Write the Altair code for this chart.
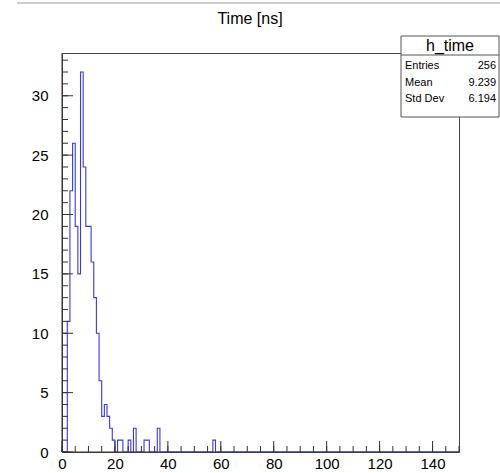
import altair as alt
import pandas as pd

# ---- data (1 ns bins, 0..150 ns) ----
bin_low_edges = [2, 3, 4, 5, 6, 7, 8, 9, 10, 11, 12, 13, 14, 15, 16, 17, 18, 19,
                 21, 22, 25, 27, 31, 32, 36, 57]
bin_counts = [11, 22, 26, 19, 15, 32, 24, 19, 19, 16, 13, 10, 6, 3, 4, 3, 2, 1,
              1, 1, 1, 2, 1, 1, 2, 1]
n_bins = 150
x_min, x_max = 0, 150
y_max = 33.6

x_major = [0, 20, 40, 60, 80, 100, 120, 140]
x_minor = list(range(0, 151, 5))
y_major = [0, 5, 10, 15, 20, 25, 30]
y_minor = list(range(0, 34))

title_text = "Time [ns]"
stats_name = "h_time"
stats_labels = ["Entries", "Mean", "Std Dev"]
stats_values = ["256", "9.239", "6.194"]

# ---- build step-line table ----
counts = [0] * n_bins
for e, c in zip(bin_low_edges, bin_counts):
    counts[e] = c
hist = pd.DataFrame({"x": list(range(n_bins + 1)), "y": counts + [counts[-1]]})

W, H = 397, 399
FONT = "Liberation Sans"
AX = "#333333"

xs = alt.Scale(domain=[x_min, x_max], nice=False, zero=False)
ys = alt.Scale(domain=[0, y_max], nice=False, zero=True)

x_axis = alt.Axis(values=x_major, title=None, ticks=False, domain=False, grid=False,
                  labelFontSize=15, labelFont=FONT, labelColor="black",
                  labelPadding=4, labelFlush=False, labelOverlap=False)
y_axis = alt.Axis(values=y_major, title=None, ticks=False, domain=False, grid=False,
                  labelFontSize=15, labelFont=FONT, labelColor="black",
                  labelPadding=14, labelFlush=False, labelOverlap=False)

line = alt.Chart(hist).mark_line(
    interpolate="step-after", color="#3a3ad8", strokeWidth=1.1
).encode(
    x=alt.X("x:Q", scale=xs, axis=x_axis),
    y=alt.Y("y:Q", scale=ys, axis=y_axis),
)

def yticks(vals, length):
    return alt.Chart(pd.DataFrame({"v": vals})).mark_rule(color=AX, strokeWidth=1).encode(
        y=alt.Y("v:Q", scale=ys, axis=y_axis), x=alt.value(0), x2=alt.value(length))

def xticks(vals, length):
    return alt.Chart(pd.DataFrame({"v": vals})).mark_rule(color=AX, strokeWidth=1).encode(
        x=alt.X("v:Q", scale=xs, axis=x_axis), y=alt.value(H), y2=alt.value(H - length))

one = pd.DataFrame({"a": [0]})

bottom = alt.Chart(one).mark_rule(color=AX, strokeWidth=1).encode(
    x=alt.value(0), x2=alt.value(W), y=alt.value(H))
left = alt.Chart(one).mark_rule(color=AX, strokeWidth=1).encode(
    x=alt.value(0), y=alt.value(0), y2=alt.value(H))

top_line = alt.Chart(one).mark_rule(color="#999999", strokeWidth=1).encode(
    x=alt.value(-45), x2=alt.value(440), y=alt.value(-50))

title = alt.Chart(one).mark_text(font=FONT, fontSize=16, color="black",
                                 align="center", baseline="middle").encode(
    x=alt.value(188), y=alt.value(-34), text=alt.value(title_text))

box = alt.Chart(one).mark_rect(fill="white", stroke="#555555", strokeWidth=1).encode(
    x=alt.value(339), x2=alt.value(437), y=alt.value(-17), y2=alt.value(64))
box_sep = alt.Chart(one).mark_rule(color="#555555", strokeWidth=1).encode(
    x=alt.value(339), x2=alt.value(437), y=alt.value(2))
box_name = alt.Chart(one).mark_text(font=FONT, fontSize=16, color="black",
                                    align="center", baseline="middle").encode(
    x=alt.value(388), y=alt.value(-7), text=alt.value(stats_name))

stat_layers = []
for i, (lab, val) in enumerate(zip(stats_labels, stats_values)):
    yy = 13 + 16.5 * i
    stat_layers.append(alt.Chart(one).mark_text(font=FONT, fontSize=11, color="black",
                                                align="left", baseline="middle").encode(
        x=alt.value(343), y=alt.value(yy), text=alt.value(lab)))
    stat_layers.append(alt.Chart(one).mark_text(font=FONT, fontSize=11, color="black",
                                                align="right", baseline="middle").encode(
        x=alt.value(434), y=alt.value(yy), text=alt.value(val)))

chart = alt.layer(
    line,
    yticks(y_minor, 6), yticks(y_major, 11),
    xticks(x_minor, 6), xticks(x_major, 11),
    bottom, left, top_line, title, box, box_sep, box_name, *stat_layers
).properties(
    width=W, height=H,
    padding={"left": 62, "top": 53, "right": 41, "bottom": 21},
    autosize=alt.AutoSizeParams(type="none"),
    background="white",
).configure_view(stroke="#444444", strokeWidth=1)

chart.save("out.html", embed_options={"renderer": "svg", "actions": False})
